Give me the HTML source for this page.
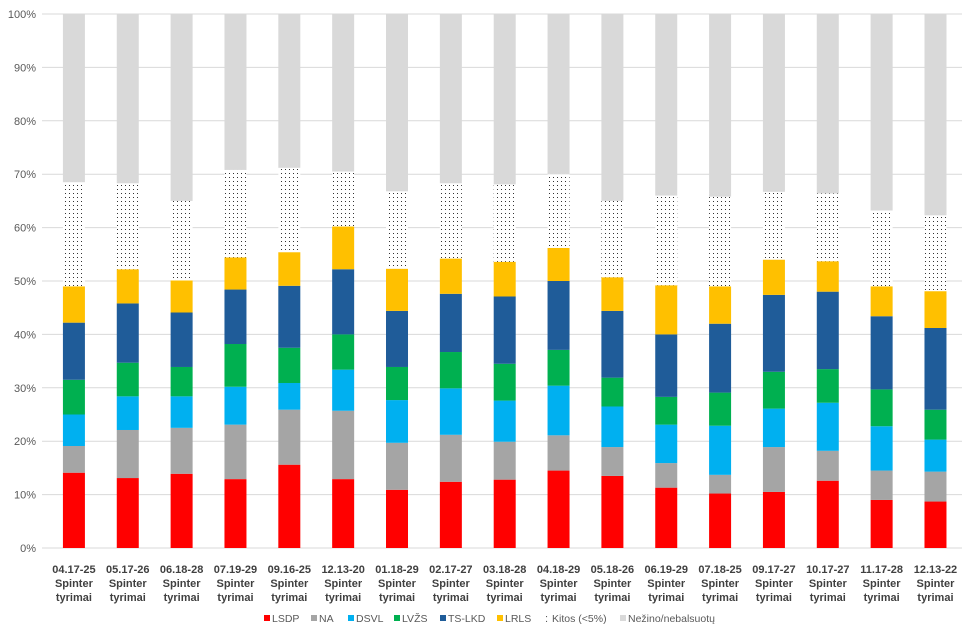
<!DOCTYPE html>
<html><head><meta charset="utf-8"><style>
body{margin:0;background:#fff;font-family:"Liberation Sans",sans-serif}
svg text{font-family:"Liberation Sans",sans-serif}
</style></head><body>
<svg id="chart" width="978" height="639" xmlns="http://www.w3.org/2000/svg">
<defs><pattern id="dots" width="4" height="4" patternUnits="userSpaceOnUse"><rect width="4" height="4" fill="#fff"/><rect x="1" y="1" width="1" height="1" fill="#333"/></pattern></defs>
<g id="grid"></g><g id="bars"></g><g id="xl"></g><g id="legend"></g>
</svg>
<script>
const categories=["04.17-25","05.17-26","06.18-28","07.19-29","09.16-25","12.13-20","01.18-29","02.17-27","03.18-28","04.18-29","05.18-26","06.19-29","07.18-25","09.17-27","10.17-27","11.17-28","12.13-22"];
const seriesNames=["LSDP","NA","DSVL","LVŽS","TS-LKD","LRLS","Kitos (<5%)","Nežino/nebalsuotų"];
const lsdp=[14.1,13.1,13.9,12.9,15.6,12.9,10.9,12.4,12.8,14.5,13.5,11.3,10.2,10.5,12.6,9,8.7];
const na=[5.0,9.0,8.6,10.2,10.3,12.8,8.8,8.8,7.1,6.6,5.4,4.6,3.5,8.4,5.6,5.5,5.6];
const dsvl=[5.9,6.3,5.9,7.1,5.0,7.7,8.0,8.7,7.7,9.3,7.6,7.2,9.2,7.2,9.0,8.3,6.0];
const lvzs=[6.5,6.3,5.5,8.0,6.6,6.6,6.2,6.8,6.9,6.7,5.4,5.2,6.2,6.9,6.3,6.9,5.6];
const tslkd=[10.7,11.1,10.2,10.2,11.6,12.2,10.5,10.9,12.6,12.9,12.5,11.7,12.9,14.4,14.5,13.7,15.3];
const lrls=[6.8,6.4,6.0,6.0,6.3,8.0,7.9,6.6,6.5,6.2,6.3,9.2,7.0,6.6,5.7,5.6,6.9];
const kitos=[19.5,16.1,14.9,16.4,15.8,10.3,14.5,14.1,14.5,13.8,14.3,16.8,16.8,12.7,12.7,14.2,14.2];
const yTicks=[0,10,20,30,40,50,60,70,80,90,100];
const NS="http://www.w3.org/2000/svg";
const colors=["#ff0000","#a5a5a5","#00b0f0","#00b050","#1f5c99","#ffc000","url(#dots)","#d9d9d9"];
const keys=["lsdp","na","dsvl","lvzs","tslkd","lrls","kitos","nezino"];
const y0=548,y1=14,x0=47,x1=962.4,bw=22;
const y=v=>y0-(v/100)*(y0-y1);
const step=(x1-x0)/categories.length;
const xc=i=>x0+step*(i+0.5);
function mk(t,a,p){const e=document.createElementNS(NS,t);for(const k in a)e.setAttribute(k,a[k]);p.appendChild(e);return e;}
const G=document.getElementById('grid');
yTicks.forEach(t=>{
 const l=mk('line',{x1:42,x2:962,y1:y(t),y2:y(t),stroke:'#d9d9d9','stroke-width':1},G);
 
 
 const tx=mk('text',{x:36,y:y(t)+4,'text-anchor':'end','font-size':11,fill:'#595959'},G);
 tx.textContent=t+'%';
 
 
});
const B=document.getElementById('bars');
const data=[lsdp,na,dsvl,lvzs,tslkd,lrls,kitos];
categories.forEach((c,i)=>{
 let cum=0;
 const vals=data.map(a=>a[i]);
 let rest=100-vals.reduce((s,v)=>s+v,0);
 vals.push(rest);
 vals.forEach((v,k)=>{
  const r=mk('rect',{x:xc(i)-bw/2,y:y(cum+v),width:bw,height:y(cum)-y(cum+v),fill:colors[k]},B);
  
  
  cum+=v;
 });
 const X=document.getElementById('xl');
 [c,'Spinter','tyrimai'].forEach((s,j)=>{
  const t=mk('text',{x:xc(i),y:573+j*14,'text-anchor':'middle','font-size':11,'font-weight':'bold',fill:'#404040'},X);
  t.textContent=s;
  
  
 });
});
const L=document.getElementById('legend');
const lx=[264,311,348,394,440,497,545,620];
seriesNames.forEach((n,k)=>{
 const g=mk('g',{},L);
 
 
 if(k===6){const t=mk('text',{x:lx[k],y:622,'font-size':11,fill:'#595959'},g);t.textContent=':';}
 else mk('rect',{x:lx[k],y:615,width:6,height:6,fill:colors[k]},g);
 const t=mk('text',{x:lx[k]+(k===6?7:8),y:622,'font-size':10.5,fill:'#595959'},g);
 t.textContent=n;
});
</script>
</body></html>
